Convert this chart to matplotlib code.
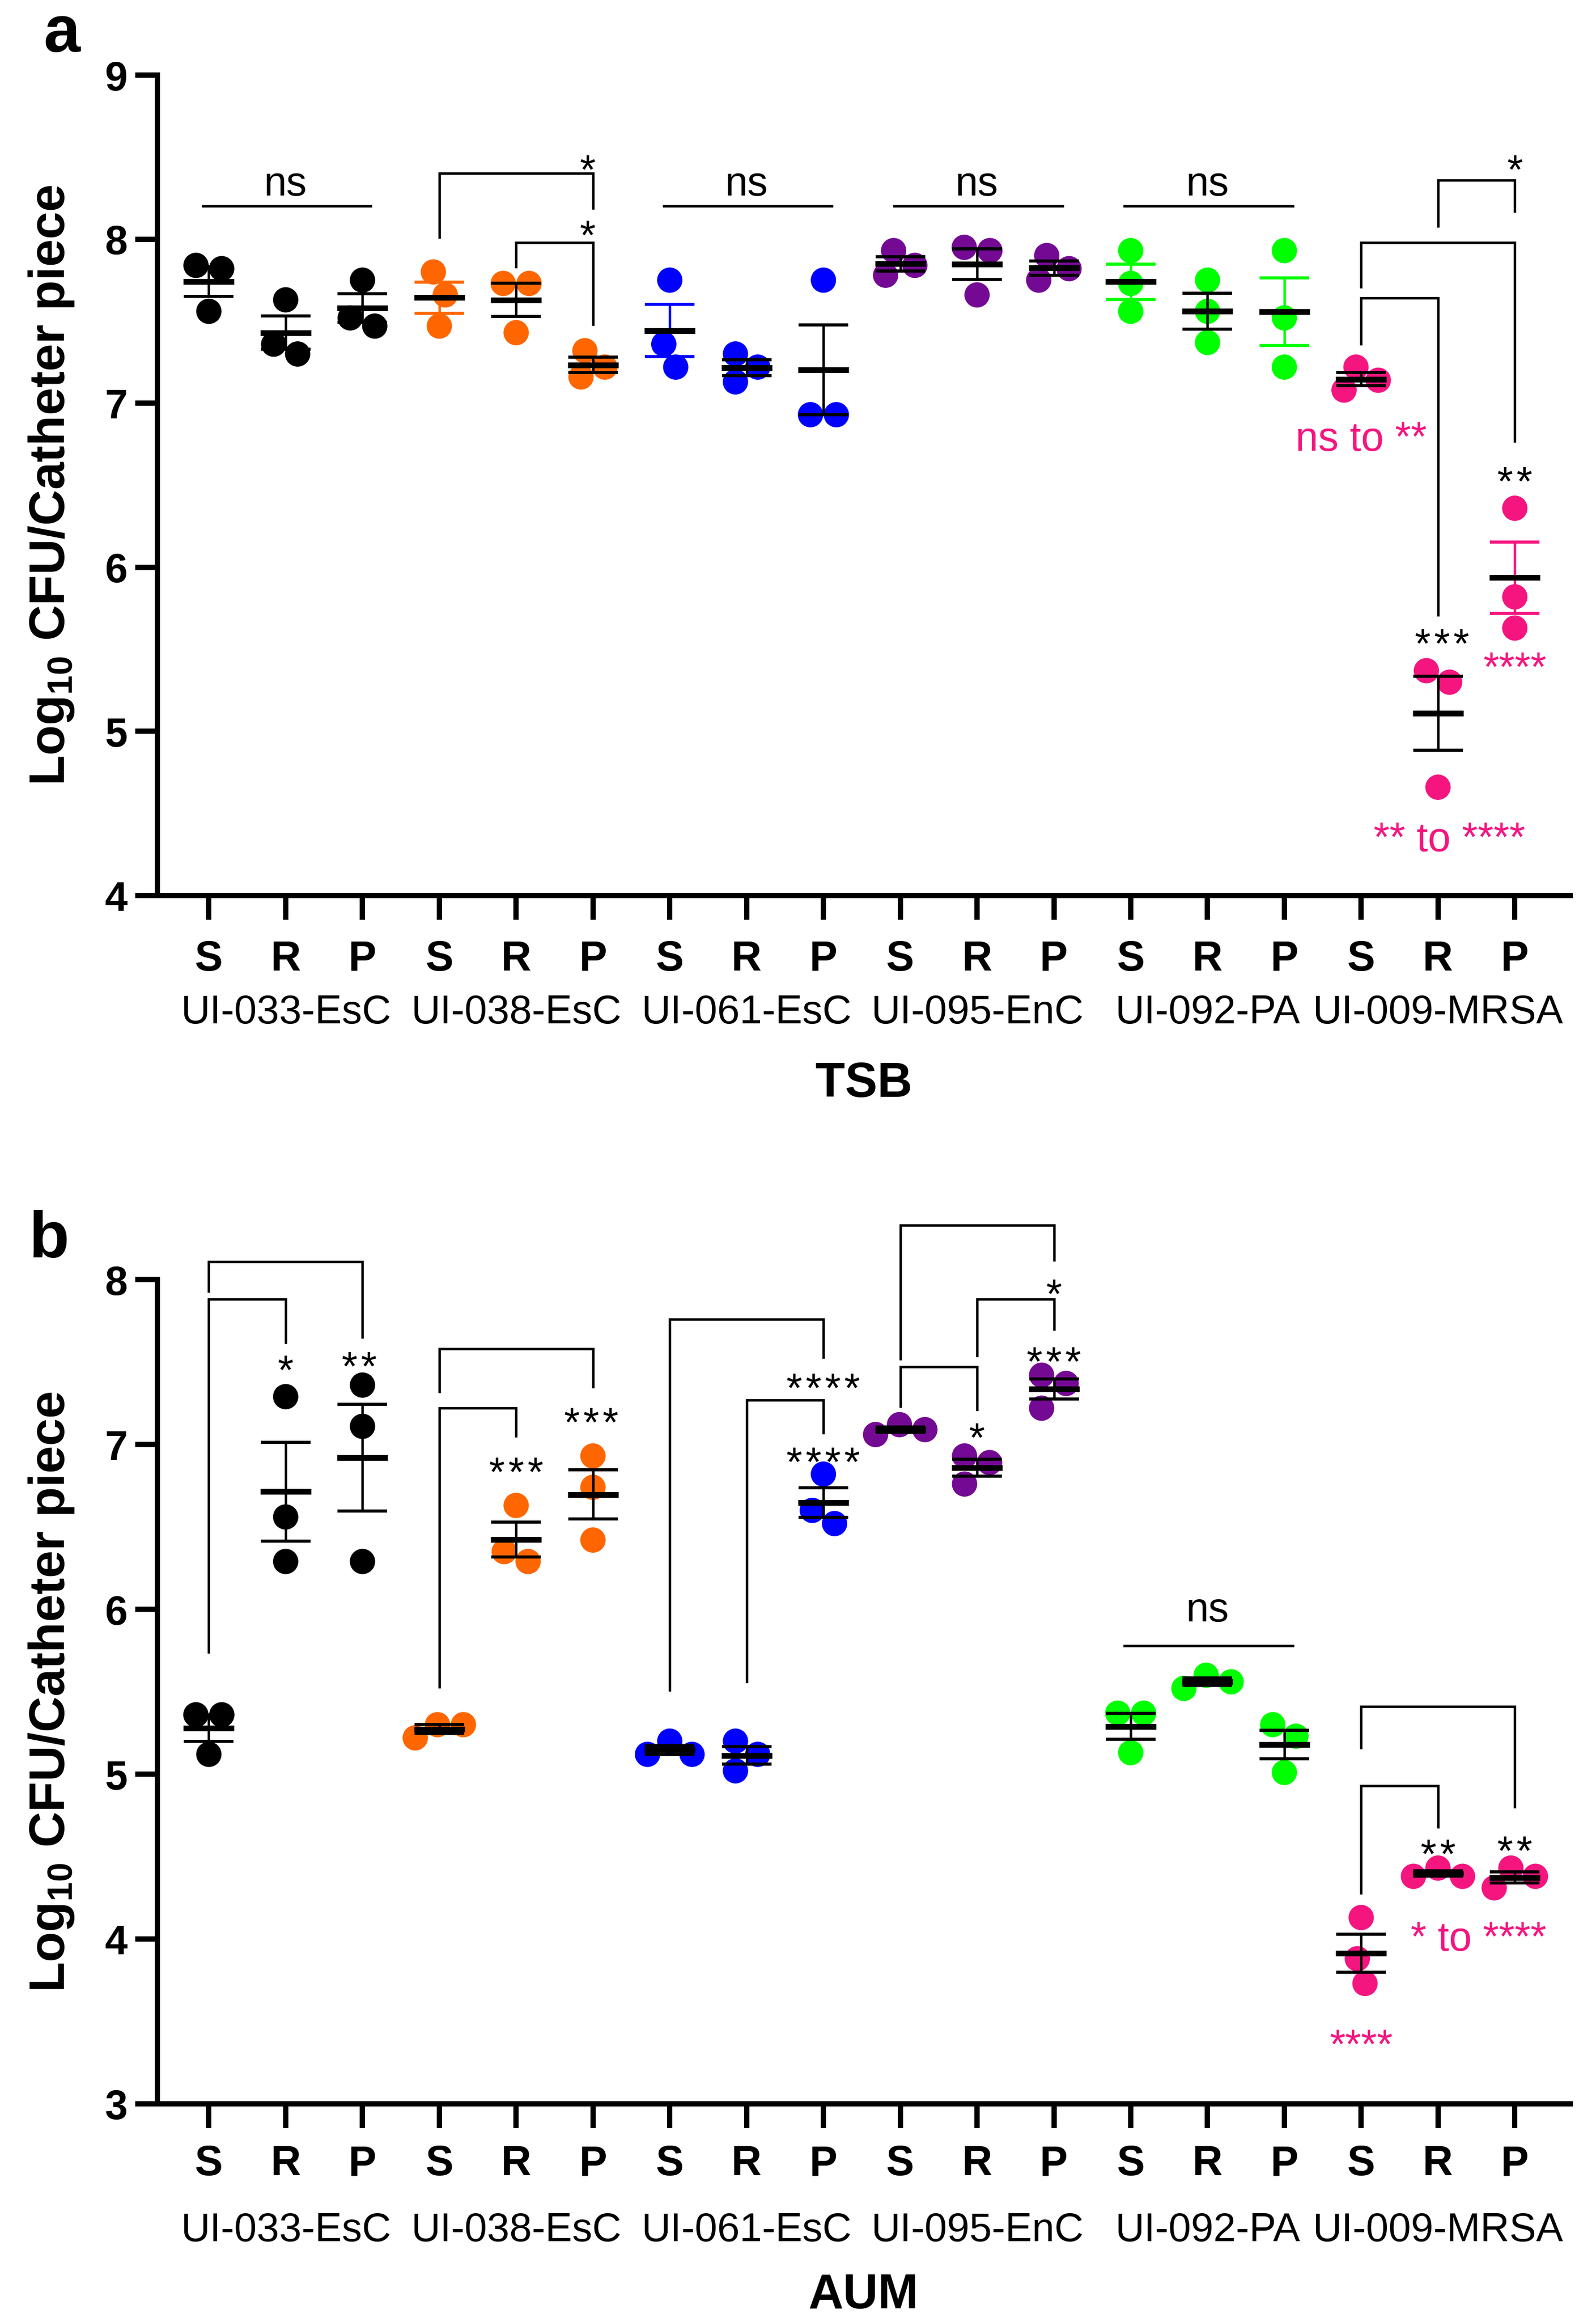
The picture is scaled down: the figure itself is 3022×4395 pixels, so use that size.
import numpy as np
import matplotlib
matplotlib.use("Agg")
import matplotlib.pyplot as plt
from matplotlib import transforms

plt.rcParams['font.family'] = ['Liberation Sans', 'DejaVu Sans']
plt.rcParams['mathtext.fontset'] = 'custom'
plt.rcParams['mathtext.rm'] = 'Liberation Sans:bold'
plt.rcParams['mathtext.it'] = 'Liberation Sans:bold'
plt.rcParams['mathtext.bf'] = 'Liberation Sans:bold'

# ---------------- data ----------------
STRAINS = ['UI-033-EsC', 'UI-038-EsC', 'UI-061-EsC', 'UI-095-EnC', 'UI-092-PA', 'UI-009-MRSA']
CONDITIONS = ['S', 'R', 'P']
COLORS = ['#000000', '#FF6600', '#0000FF', '#740A94', '#00FF00', '#F5157F']

# Log10 CFU / catheter piece, 3 replicates per condition (S, R, P) per strain
TSB_033 = [[7.84, 7.82, 7.56], [7.63, 7.36, 7.30], [7.75, 7.52, 7.47]]
TSB_038 = [[7.80, 7.66, 7.47], [7.73, 7.73, 7.43], [7.32, 7.22, 7.16]]
TSB_061 = [[7.75, 7.36, 7.22], [7.30, 7.22, 7.13], [7.75, 6.93, 6.93]]
TSB_095 = [[7.93, 7.84, 7.78], [7.95, 7.93, 7.66], [7.90, 7.82, 7.75]]
TSB_092 = [[7.93, 7.73, 7.56], [7.75, 7.56, 7.37], [7.93, 7.52, 7.22]]
TSB_009 = [[7.22, 7.14, 7.08], [5.37, 5.30, 4.66], [6.36, 5.82, 5.63]]

AUM_033 = [[5.36, 5.36, 5.12], [7.29, 6.56, 6.29], [7.36, 7.11, 6.29]]
AUM_038 = [[5.22, 5.30, 5.30], [6.63, 6.35, 6.29], [6.93, 6.74, 6.42]]
AUM_061 = [[5.20, 5.12, 5.12], [5.20, 5.12, 5.02], [6.82, 6.60, 6.52]]
AUM_095 = [[7.12, 7.09, 7.06], [6.93, 6.89, 6.76], [7.42, 7.37, 7.22]]
AUM_092 = [[5.37, 5.37, 5.13], [5.60, 5.56, 5.52], [5.30, 5.23, 5.01]]
AUM_009 = [[4.13, 3.88, 3.73], [4.43, 4.38, 4.38], [4.43, 4.38, 4.31]]

TSB = [TSB_033, TSB_038, TSB_061, TSB_095, TSB_092, TSB_009]
AUM = [AUM_033, AUM_038, AUM_061, AUM_095, AUM_092, AUM_009]

# groups (strain*3 + condition) whose error bar is drawn in the strain colour
TSB_COLORED_ERR = [3, 6, 12, 14, 17]
AUM_COLORED_ERR = []

# significance annotations: (group1, group2, y_top, y_leg1_end, y_leg2_end, label, label_x, label_y)
TSB_BRACKETS = [
    (3, 5, 8.40, 8.01, 8.19, '*', 4.93, 8.48),
    (4, 5, 7.98, 7.83, 7.48, '*', 4.93, 8.08),
    (16, 17, 8.36, 8.08, 8.17, '*', 17.0, 8.48),
    (15, 17, 7.98, 7.71, 6.77, '**', 17.0, 6.58),
    (15, 16, 7.64, 7.36, 5.71, '***', 16.05, 5.59),
]
TSB_NS = [(0, 2, 8.20, 8.33), (6, 8, 8.20, 8.33), (9, 11, 8.20, 8.33), (12, 14, 8.20, 8.33)]
# pink texts: (x, y, text, kind) kind 'stars' -> y is visual centre, 'text' -> y is baseline
TSB_PINK = [(15.0, 6.71, 'ns to **', 'text'), (17.0, 5.45, '****', 'stars'),
            (16.15, 4.27, '** to ****', 'text')]

AUM_BRACKETS = [
    (0, 2, 8.11, 7.93, 7.65, '**', 1.96, 7.53),
    (0, 1, 7.88, 5.74, 7.62, '*', 1.0, 7.51),
    (3, 5, 7.58, 7.32, 7.35, '***', 4.98, 7.19),
    (3, 4, 7.22, 5.53, 7.05, '***', 4.0, 6.89),
    (6, 8, 7.76, 5.51, 7.53, '****', 8.0, 7.40),
    (7, 8, 7.27, 5.56, 7.07, '****', 8.0, 6.95),
    (9, 11, 8.33, 7.52, 8.12, '*', 11.0, 7.97),
    (10, 11, 7.88, 7.54, 7.70, '***', 11.0, 7.56),
    (9, 10, 7.47, 7.23, 7.21, '*', 10.0, 7.10),
    (15, 17, 5.41, 5.16, 4.80, '**', 17.0, 4.59),
    (15, 16, 4.93, 4.28, 4.68, '**', 16.0, 4.57),
]
AUM_NS = [(12, 14, 5.78, 5.99)]
AUM_PINK = [(15.0, 3.42, '****', 'stars'), (16.53, 3.93, '* to ****', 'text')]

# ---------------- figure ----------------
W, H, DPI = 3022, 4395, 300
fig = plt.figure(figsize=(W / DPI, H / DPI), dpi=DPI)


def fpos(left, right, top, bottom):
    return [left / W, 1 - bottom / H, (right - left) / W, (bottom - top) / H]


FS = 18.5
HAIR = '\u200a'


def spaced(s):
    return HAIR.join(list(s)) if set(s) == {'*'} else s


def swarm(ax, xc, vals, d=49.0):
    pts = ax.transData.transform(np.column_stack([np.full(len(vals), xc), vals]))
    ypx = pts[:, 1]
    n = len(vals)
    order = np.argsort(-np.asarray(vals), kind='stable')
    xs = np.zeros(n)
    placed = []
    for i in order:
        forb = []
        for j in placed:
            dy = abs(ypx[i] - ypx[j])
            if dy < d:
                w = np.sqrt(d * d - dy * dy)
                forb.append((xs[j] - w, xs[j] + w))
        cands = [0.0] + [a for a, b in forb] + [b for a, b in forb]
        cands.sort(key=lambda c: (abs(c), -c))
        for c in cands:
            if all(not (a + 1e-6 < c < b - 1e-6) for a, b in forb):
                xs[i] = c
                break
        placed.append(i)
    # centre connected clusters
    parent = list(range(n))

    def find(a):
        while parent[a] != a:
            a = parent[a]
        return a
    for i in range(n):
        for j in range(i + 1, n):
            if abs(ypx[i] - ypx[j]) < d:
                parent[find(i)] = find(j)
    for r in set(find(i) for i in range(n)):
        mem = [i for i in range(n) if find(i) == r]
        sh = (xs[mem].max() + xs[mem].min()) / 2
        xs[mem] -= sh
    pxcat = ax.transData.transform((1, 0))[0] - ax.transData.transform((0, 0))[0]
    return xc + xs / pxcat


def label_at(ax, x, y, s, color, kind):
    if kind == 'stars':
        off = -0.575 * FS
    elif kind == 'ns':
        off = -0.26 * FS
    else:
        off = 0.0
    ax.annotate(s, xy=(x, y), xytext=(0, off), textcoords='offset points',
                ha='center', va='baseline', fontsize=FS, color=color,
                annotation_clip=False, zorder=8)


def draw_panel(ax, data, ylim, yticks, colored_err, brackets, ns_list, pink,
               medium, letter, letter_xy, srp_off, strain_off, med_off):
    ax.set_xlim(-0.67, 17.72)
    ax.set_ylim(*ylim)
    for s in ['top', 'right']:
        ax.spines[s].set_visible(False)
    for s in ['left', 'bottom']:
        ax.spines[s].set_linewidth(2.4)
    ax.set_yticks(yticks)
    ax.set_yticklabels([str(t) for t in yticks], fontsize=FS, fontweight='bold')
    ax.tick_params(axis='y', length=10, width=2.4, pad=3.6)
    ax.set_xticks(range(18))
    ax.set_xticklabels([])
    ax.tick_params(axis='x', length=11, width=2.4)

    for si, strain in enumerate(data):
        col = COLORS[si]
        for ci, vals in enumerate(strain):
            g = si * 3 + ci
            vals = np.asarray(vals, dtype=float)
            xs = swarm(ax, g, vals)
            ax.scatter(xs, vals, s=11.5 ** 2, color=col, edgecolors='none', zorder=3)
            m = vals.mean()
            sem = vals.std(ddof=1) / np.sqrt(len(vals))
            ecol = col if g in colored_err else 'k'
            ax.errorbar([g], [m], yerr=[sem], fmt='none', ecolor=ecol, elinewidth=1.1,
                        capsize=11.3, capthick=1.4, zorder=4)
            ax.hlines(m, g - 0.33, g + 0.33, color='k', lw=2.6, zorder=5)

    for (g1, g2, yt, yb1, yb2, lab, lx, ly) in brackets:
        ax.plot([g1, g1, g2, g2], [yb1, yt, yt, yb2], color='k', lw=1.1,
                clip_on=False, zorder=6, solid_joinstyle='miter')
        label_at(ax, lx, ly, spaced(lab), 'k', 'stars')
    for (g1, g2, yl, yt) in ns_list:
        ax.plot([g1 - 0.08, g2 + 0.11], [yl, yl], color='k', lw=1.1, clip_on=False, zorder=6)
        label_at(ax, (g1 + g2) / 2, yt, 'ns', 'k', 'ns')
    for (x, y, s, kind) in pink:
        label_at(ax, x, y, s, COLORS[5], kind)

    trans = transforms.blended_transform_factory(ax.transData, ax.transAxes)
    for si, strain in enumerate(STRAINS):
        for ci, c in enumerate(CONDITIONS):
            ax.annotate(c, xy=(si * 3 + ci, 0), xycoords=trans, xytext=(0, -srp_off),
                        textcoords='offset points', ha='center', va='baseline',
                        fontsize=19, fontweight='bold', annotation_clip=False)
        ax.annotate(strain, xy=(si * 3 + 1, 0), xycoords=trans, xytext=(0, -strain_off),
                    textcoords='offset points', ha='center', va='baseline',
                    fontsize=18.3, annotation_clip=False)
    ax.annotate(medium, xy=(0.5, 0), xycoords='axes fraction', xytext=(0, -med_off),
                textcoords='offset points', ha='center', va='baseline',
                fontsize=22, fontweight='bold', annotation_clip=False)

    bb = ax.get_position()
    fig.text(98 / W, bb.y0 + bb.height / 2, r'Log$_{10}$ CFU/Catheter piece',
             rotation=90, ha='center', va='center', fontsize=22.5, fontweight='bold')
    fig.text(letter_xy[0] / W, 1 - letter_xy[1] / H, letter, ha='left', va='baseline',
             fontsize=30, fontweight='bold')


axA = fig.add_axes(fpos(298, 2973, 142, 1695))
axB = fig.add_axes(fpos(298, 2973, 2422, 3982))

draw_panel(axA, TSB, (4, 9), [4, 5, 6, 7, 8, 9], TSB_COLORED_ERR, TSB_BRACKETS, TSB_NS,
           TSB_PINK, 'TSB', 'a', (82, 98), 34.0, 58.0, 91.4)
draw_panel(axB, AUM, (3, 8), [3, 4, 5, 6, 7, 8], AUM_COLORED_ERR, AUM_BRACKETS, AUM_NS,
           AUM_PINK, 'AUM', 'b', (55, 2380), 32.5, 62.5, 93.0)

fig.savefig('out.png', dpi=DPI)
